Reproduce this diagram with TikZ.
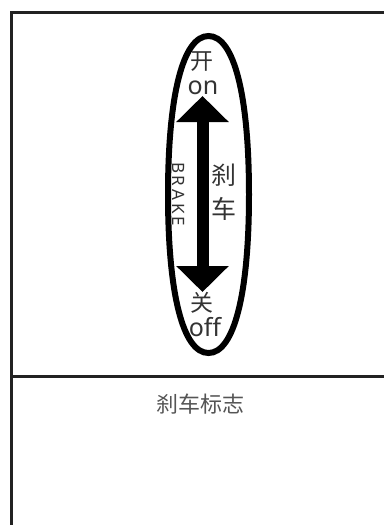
\documentclass[tikz,border=0pt]{standalone}
\usepackage{fontspec}
\setmainfont{Noto Sans}
\newfontfamily\cjk{Noto Sans CJK SC}
\usetikzlibrary{arrows.meta}
\definecolor{ink}{HTML}{222222}
\definecolor{txt}{HTML}{333333}
\definecolor{capgrey}{HTML}{555555}

\begin{document}
\begin{tikzpicture}[x=1pt,y=-1pt]
    \tikzset{%
      frame/.style={ink, line width=3pt},
      ring/.style={draw=black, line width=6pt},
      zh/.style={text=txt, inner sep=0pt, font=\cjk\fontsize{23}{23}\selectfont},
      en/.style={text=txt, inner sep=0pt, font=\fontsize{25}{25}\selectfont},
      brakearrow/.style={line width=12pt,
        {Triangle[width=51pt,length=26pt]}-{Triangle[width=51pt,length=26pt]}},
    }
    \useasboundingbox (0,0) rectangle (384,525);
    % frame of the card
    \coordinate (F0) at (11,525);
    \coordinate (F1) at (11,12);
    \coordinate (F2) at (384,12);
    \coordinate (G0) at (11,376);
    \coordinate (G1) at (384,376);
    \draw [frame] (F0) -- (F1) -- (F2);
    \draw [frame] (G0) -- (G1);

    % blunt oval round the switch
    \coordinate (ET) at (208.5,36);
    \coordinate (ER) at (249,194.5);
    \coordinate (EB) at (208.5,353);
    \coordinate (EL) at (168,194.5);
    \draw [ring] (ET) .. controls (234,36) and (249,95) .. (ER)
      .. controls (249,294) and (234,353) .. (EB)
      .. controls (183,353) and (168,294) .. (EL)
      .. controls (168,95) and (183,36) .. (ET) -- cycle;

    \node[zh] (open) at (202,62) {开};
    \node[en, anchor=base] (on) at (203,94) {on};

    \coordinate (up) at (202.5,96);
    \coordinate (down) at (202.5,292);
    \draw [brakearrow] (up) -- (down);

    \node[text=txt, inner sep=0pt, rotate=-90,
      font=\fontsize{17}{17}\selectfont] (en) at (179,194)
      {B\,R\,A\,K\,E};
    \node[zh, font=\cjk\fontsize{25}{25}\selectfont] (sha) at (224,175) {刹};
    \node[zh, font=\cjk\fontsize{25}{25}\selectfont] (che) at (224,209) {车};

    \node[zh] (close) at (202,303) {关};
    \node[en, anchor=base] (off) at (205,336) {off};

    \node[text=capgrey, inner sep=0pt, font=\cjk\fontsize{22}{22}\selectfont]
      (Z) at (200,404) {刹车标志};
  \end{tikzpicture}
\end{document}
